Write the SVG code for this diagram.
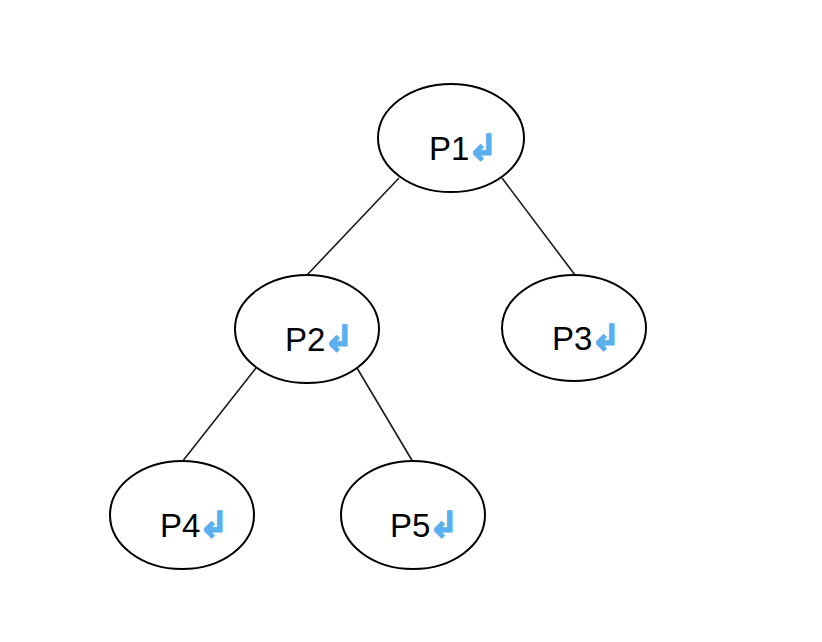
<svg xmlns="http://www.w3.org/2000/svg" width="822" height="642" viewBox="0 0 822 642">
<style>
.n{fill:#fff;stroke:#000;stroke-width:2}
.e{stroke:#1a1a1a;stroke-width:1.6;fill:none}
.t{font-family:"Liberation Sans",Arial,sans-serif;font-size:33px;fill:#000}
.m{fill:#5aafef;stroke:#5aafef;stroke-width:1.2;font-family:"DejaVu Sans",sans-serif;font-size:36px;font-weight:bold}
</style>
<rect width="822" height="642" fill="#fff"/>
<g id="connectors">
<line class="e" x1="399" y1="178" x2="307" y2="275"/>
<line class="e" x1="502" y1="178" x2="575" y2="275"/>
<line class="e" x1="256" y1="368" x2="182" y2="462"/>
<line class="e" x1="357" y1="368" x2="413" y2="462"/>
</g>
<g id="P1"><ellipse class="n" cx="451" cy="138" rx="73" ry="54"/><text class="t" x="429" y="160">P1<tspan class="m" dx="-2">↲</tspan></text></g>
<g id="P2"><ellipse class="n" cx="307" cy="329" rx="72" ry="54"/><text class="t" x="285" y="351">P2<tspan class="m" dx="-2">↲</tspan></text></g>
<g id="P3"><ellipse class="n" cx="574" cy="328" rx="72" ry="53"/><text class="t" x="552" y="350">P3<tspan class="m" dx="-2">↲</tspan></text></g>
<g id="P4"><ellipse class="n" cx="182" cy="515" rx="72" ry="54"/><text class="t" x="160" y="537">P4<tspan class="m" dx="-2">↲</tspan></text></g>
<g id="P5"><ellipse class="n" cx="413" cy="515" rx="72" ry="54"/><text class="t" x="390" y="537">P5<tspan class="m" dx="-2">↲</tspan></text></g>
</svg>
